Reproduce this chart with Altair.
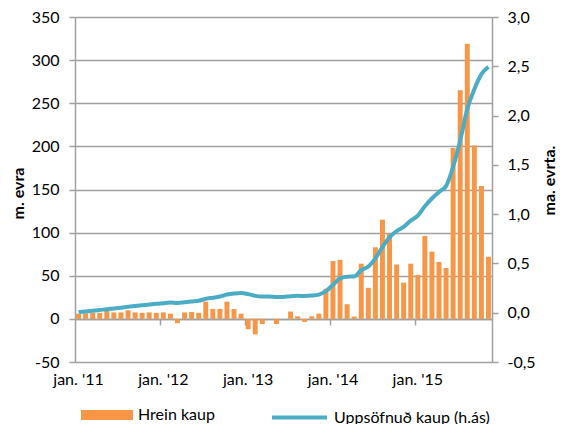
import altair as alt
import pandas as pd

# Monthly categories, Jan 2011 - Nov 2015
years = [2011, 2012, 2013, 2014, 2015]
month_nums = ["01", "02", "03", "04", "05", "06", "07", "08", "09", "10", "11", "12"]
months = [f"{y}-{m}" for y in years for m in month_nums][:59]

# Hrein kaup (m. evra), left axis
net_purchases = [
    6, 6.5, 7, 7, 9, 7.5, 7.5, 10, 7.5, 7, 7.5, 7,
    7.5, 6, -5, 7.5, 8, 7, 20, 11.5, 11.5, 20, 11.5, 6,
    -12, -18, -6, 0, -6, 0, 8.5, 3, -3.5, 3, 6, 35,
    67, 68.5, 17, 2.7, 64, 36, 83, 115, 99, 63, 42, 64,
    51, 96, 78, 66, 59, 198, 265, 319, 201, 154, 72,
]

# Uppsöfnuð kaup (ma. evra), right axis
cumulative = [
    0.006, 0.013, 0.020, 0.027, 0.036, 0.043, 0.051, 0.061, 0.068, 0.075, 0.083, 0.090,
    0.097, 0.103, 0.098, 0.106, 0.114, 0.121, 0.141, 0.152, 0.164, 0.184, 0.195, 0.201,
    0.189, 0.171, 0.165, 0.165, 0.160, 0.160, 0.168, 0.171, 0.170, 0.174, 0.183, 0.218,
    0.283, 0.349, 0.365, 0.368, 0.432, 0.468, 0.551, 0.666, 0.765, 0.828, 0.870, 0.934,
    0.985, 1.081, 1.159, 1.225, 1.284, 1.482, 1.747, 2.066, 2.267, 2.421, 2.495,
]

left_ticks = [-50, 0, 50, 100, 150, 200, 250, 300, 350]
right_ticks = [-0.5, 0.0, 0.5, 1.0, 1.5, 2.0, 2.5, 3.0]
jan_labels = ["2011-01", "2012-01", "2013-01", "2014-01", "2015-01"]
jan_ticks = ["2012-01", "2013-01", "2014-01", "2015-01"]

bar_name = "Hrein kaup"
line_name = "Uppsöfnuð kaup (h.ás)"

df = pd.DataFrame({
    "m": months,
    "net": net_purchases,
    "cum": cumulative,
    "s1": bar_name,
    "s2": line_name,
})

FONT = "Lato"
GRAY = "#A0A0A0"
ORANGE = "#F79646"
BLUE = "#4BACC6"

W, H = 417, 345
zero_offset = -(H - H * 350 / 400)

xscale = alt.Scale(domain=months, paddingInner=0.3, paddingOuter=0.15)

base = alt.Chart(df)

bars = base.mark_bar(color=ORANGE).encode(
    x=alt.X("m:O", scale=xscale, title=None,
            axis=alt.Axis(values=jan_labels, orient="bottom", domain=False, ticks=False,
                          grid=False, labelAngle=0, labelPadding=9,
                          labelExpr="'jan. \\'' + substring(datum.value, 2, 4)")),
    y=alt.Y("net:Q", scale=alt.Scale(domain=[-50, 350], nice=False, zero=False),
            axis=alt.Axis(values=left_ticks, title="m. evra", orient="left",
                          grid=True, tickSize=6, labelPadding=10,
                          labelExpr="'' + datum.value",
                          titleAngle=270, titleBaseline="middle", titleX=-57, titleY=176,
                          titleAlign="center")),
    color=alt.Color("s1:N", scale=alt.Scale(domain=[bar_name], range=[ORANGE]),
                    legend=alt.Legend(orient="none", legendX=6, legendY=372, title=None,
                                      symbolType="M-1,-0.19H1V0.19H-1Z", symbolSize=2704,
                                      symbolStrokeWidth=0, labelOffset=5, padding=0,
                                      labelLimit=400)),
)

line = base.mark_line(strokeWidth=4, interpolate="monotone").encode(
    x=alt.X("m:O", scale=xscale, title=None,
            axis=alt.Axis(values=jan_ticks, orient="bottom", offset=zero_offset, labels=False,
                          domain=True, ticks=True, tickSize=6, bandPosition=0, grid=False)),
    y=alt.Y("cum:Q", scale=alt.Scale(domain=[-0.5, 3.0], nice=False, zero=False),
            axis=alt.Axis(values=right_ticks, title="ma. evrta.",
                          orient="right", grid=False, tickSize=6, labelPadding=9,
                          labelExpr="replace(replace(format(datum.value, '.1f'), '.', ','), '\u2212', '-')",
                          titleAngle=270, titleBaseline="middle", titleX=57, titleY=163,
                          titleAlign="center")),
    color=alt.Color("s2:N", scale=alt.Scale(domain=[line_name], range=[BLUE]),
                    legend=alt.Legend(orient="none", legendX=195, legendY=371, title=None,
                                      symbolType="stroke", symbolSize=3025,
                                      symbolStrokeWidth=4, labelOffset=5, padding=0,
                                      labelLimit=400)),
)

chart = alt.layer(bars, line).resolve_scale(
    y="independent", color="independent"
).resolve_axis(x="independent").properties(
    width=W, height=H,
    autosize=alt.AutoSizeParams(type="none"),
    padding={"left": 67, "top": 9, "right": 66, "bottom": 62},
    background="white",
).configure_view(stroke=None).configure_axis(
    labelFont=FONT, titleFont=FONT, labelFontSize=16, titleFontSize=16,
    titleFontWeight="bold", labelColor="#000000", titleColor="#000000",
    domainColor=GRAY, tickColor=GRAY, gridColor=GRAY, domainWidth=1.5,
    tickWidth=1.5, gridWidth=1.5,
).configure_legend(
    labelFont=FONT, labelFontSize=16, labelColor="#000000",
)

chart.save("out.html", embed_options={"renderer": "svg", "actions": False})
